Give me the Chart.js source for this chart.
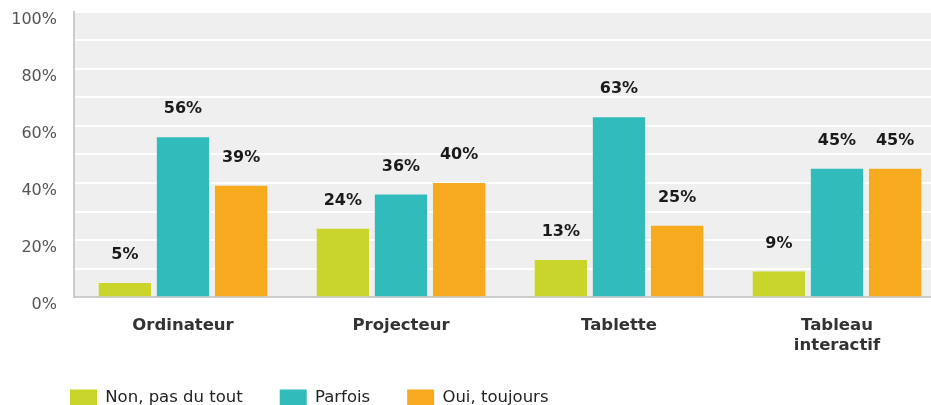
<!DOCTYPE html>
<html>
<head>
<meta charset="utf-8">
<script src="https://cdn.jsdelivr.net/npm/chart.js@4.4.0/dist/chart.umd.min.js"></script>
<style>
  html, body { margin: 0; padding: 0; background: #fff; overflow: hidden; }
  #wrap { width: 950px; height: 453px; position: relative; margin-top: -15px; }
</style>
</head>
<body>
<div id="wrap"><canvas id="myChart"></canvas></div>
<script>
const categories = ['Ordinateur', 'Projecteur', 'Tablette', ['Tableau', 'interactif']];
const seriesNames = ['Non, pas du tout', 'Parfois', 'Oui, toujours'];
const nonValues = [5, 24, 13, 9];
const parfoisValues = [56, 36, 63, 45];
const ouiValues = [39, 40, 25, 45];
const yTicks = [0, 20, 40, 60, 80, 100];

const colors = ['#c9d52b', '#32bbbb', '#f7aa1e'];

// fond gris de la zone du graphique
const plotBg = {
  id: 'plotBg',
  beforeDraw: (chart) => {
    const a = chart.chartArea;
    const c = chart.ctx;
    c.save();
    c.fillStyle = '#efefef';
    c.fillRect(a.left, a.top, a.right - a.left, a.bottom - a.top);
    c.restore();
  }
};

// legende placee sous les libelles, decalee vers la droite
const legendShift = {
  id: 'legendShift',
  afterLayout: (chart) => {
    chart.legend.left += 33;
    chart.legend.top = chart.chartArea.bottom + 55;
  }
};

// pourcentages au-dessus des barres
const valueLabels = {
  id: 'valueLabels',
  afterDatasetsDraw: (chart) => {
    const c = chart.ctx;
    c.save();
    c.font = 'bold 16px "DejaVu Sans"';
    c.fillStyle = '#1a1a1a';
    c.textAlign = 'center';
    c.textBaseline = 'middle';
    chart.data.datasets.forEach((ds, i) => {
      chart.getDatasetMeta(i).data.forEach((bar, j) => {
        c.fillText(ds.data[j] + '%', bar.x, bar.y - 28);
      });
    });
    c.restore();
  }
};

const ctx = document.getElementById('myChart');

const myChart = new Chart(ctx, {
  type: 'bar',
  data: {
    labels: categories,
    datasets: [
      { label: seriesNames[0], data: nonValues, backgroundColor: colors[0] },
      { label: seriesNames[1], data: parfoisValues, backgroundColor: colors[1] },
      { label: seriesNames[2], data: ouiValues, backgroundColor: colors[2] }
    ]
  },
  options: {
    responsive: true,
    maintainAspectRatio: false,
    animation: false,
    layout: { padding: { top: 12, left: 0, right: 4, bottom: 0 } },
    scales: {
      x: {
        grid: { display: false, drawTicks: false },
        border: { color: '#cccccc', width: 2 },
        ticks: {
          padding: 18,
          color: '#333333',
          font: { family: 'DejaVu Sans', size: 16.5, weight: 'bold', lineHeight: 1.25 },
          maxRotation: 0
        }
      },
      y: {
        min: 0,
        max: 100,
        afterFit: (scale) => { scale.width = 74; },
        grid: { color: '#ffffff', lineWidth: 2, drawTicks: false },
        border: { color: '#cccccc', width: 2 },
        ticks: {
          stepSize: 10,
          padding: 17,
          labelOffset: 8,
          color: '#555555',
          font: { family: 'DejaVu Sans', size: 16 },
          callback: (v) => yTicks.includes(v) ? v + '%' : ''
        }
      }
    },
    plugins: {
      tooltip: { enabled: false },
      legend: {
        position: 'bottom',
        align: 'start',
        labels: {
          boxWidth: 27,
          boxHeight: 16,
          padding: 37,
          color: '#222222',
          font: { family: 'DejaVu Sans', size: 16.5 }
        }
      }
    }
  },
  plugins: [plotBg, legendShift, valueLabels]
});
</script>
</body>
</html>
